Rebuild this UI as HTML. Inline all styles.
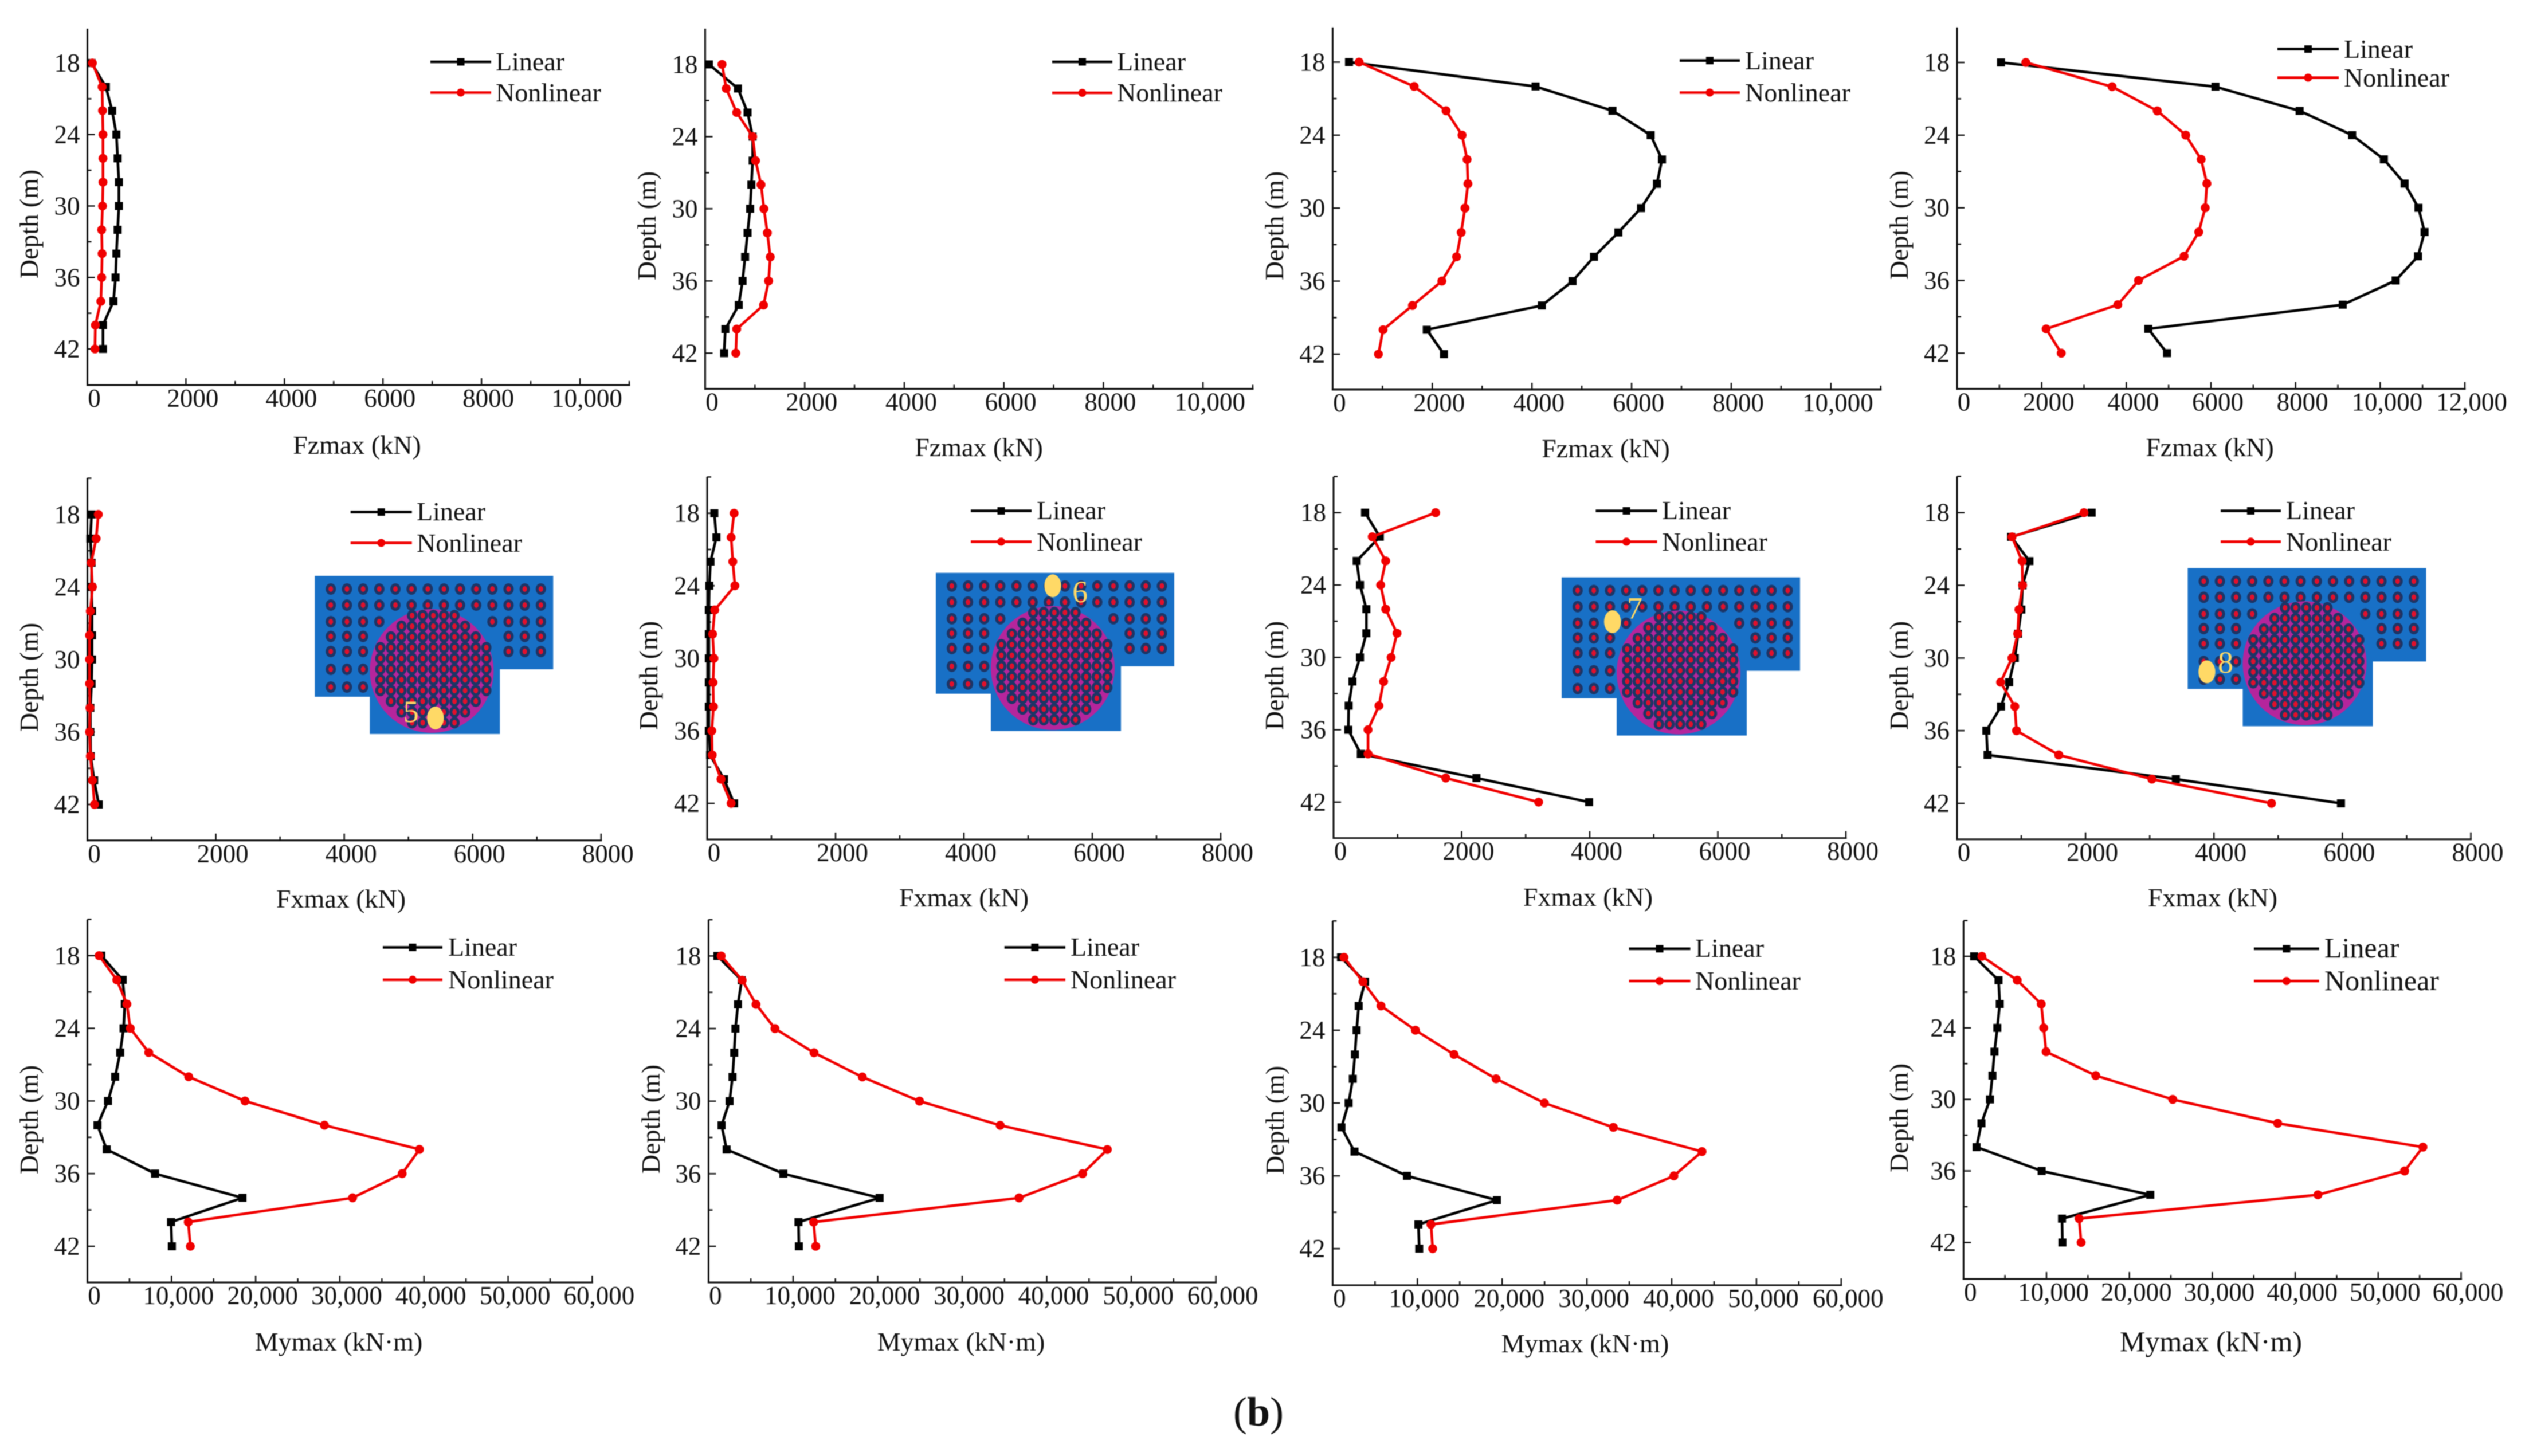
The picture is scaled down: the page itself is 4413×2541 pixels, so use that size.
<!DOCTYPE html>
<html lang="en">
<head>
<meta charset="utf-8">
<title>Depth profiles of Fzmax, Fxmax and Mymax for linear and nonlinear analysis</title>
<style>
html,body{margin:0;padding:0;background:#fff;}
#figure{display:block;width:4413px;height:2541px;background:#fff;font-family:"Liberation Serif","Times New Roman",serif;filter:blur(0.8px);}
#figure text{font-family:"Liberation Serif","Times New Roman",serif;fill:#111;}
.title{font-size:46px;text-anchor:middle;}
.legend{font-size:46px;}
.legend-big{font-size:50px;}
.title-big{font-size:50px;text-anchor:middle;}
#figure text.num{font-size:54px;fill:#ffd966;text-anchor:middle;}
#figure text.caption{font-size:72px;text-anchor:middle;}
</style>
</head>
<body>
<svg id="figure" xmlns="http://www.w3.org/2000/svg" width="4413" height="2541" viewBox="0 0 4413 2541">
  <g id="marks"></g>

  <g id="axis-titles">
    <text class="title" x="623" y="792">Fzmax (kN)</text>
    <text class="title" x="1708" y="796">Fzmax (kN)</text>
    <text class="title" x="2802" y="798">Fzmax (kN)</text>
    <text class="title" x="3856" y="796">Fzmax (kN)</text>
    <text class="title" x="595" y="1584">Fxmax (kN)</text>
    <text class="title" x="1682" y="1582">Fxmax (kN)</text>
    <text class="title" x="2771" y="1581">Fxmax (kN)</text>
    <text class="title" x="3861" y="1582">Fxmax (kN)</text>
    <text class="title" x="591" y="2357">Mymax (kN·m)</text>
    <text class="title" x="1677" y="2357">Mymax (kN·m)</text>
    <text class="title" x="2766" y="2360">Mymax (kN·m)</text>
    <text class="title-big" x="3858" y="2358">Mymax (kN·m)</text>

    <text class="title" transform="translate(66 391) rotate(-90)">Depth (m)</text>
    <text class="title" transform="translate(1144 394) rotate(-90)">Depth (m)</text>
    <text class="title" transform="translate(2239 394) rotate(-90)">Depth (m)</text>
    <text class="title" transform="translate(3329 393) rotate(-90)">Depth (m)</text>
    <text class="title" transform="translate(66 1182) rotate(-90)">Depth (m)</text>
    <text class="title" transform="translate(1147 1179) rotate(-90)">Depth (m)</text>
    <text class="title" transform="translate(2239 1179) rotate(-90)">Depth (m)</text>
    <text class="title" transform="translate(3329 1179) rotate(-90)">Depth (m)</text>
    <text class="title" transform="translate(66 1954) rotate(-90)">Depth (m)</text>
    <text class="title" transform="translate(1151 1953) rotate(-90)">Depth (m)</text>
    <text class="title" transform="translate(2240 1955) rotate(-90)">Depth (m)</text>
    <text class="title" transform="translate(3329 1951) rotate(-90)">Depth (m)</text>
  </g>

  <g id="legend-labels">
    <text class="legend" x="865" y="123">Linear</text>
    <text class="legend" x="865" y="177">Nonlinear</text>
    <text class="legend" x="1949" y="123">Linear</text>
    <text class="legend" x="1949" y="177">Nonlinear</text>
    <text class="legend" x="3045" y="121">Linear</text>
    <text class="legend" x="3045" y="177">Nonlinear</text>
    <text class="legend" x="4090" y="101">Linear</text>
    <text class="legend" x="4090" y="151">Nonlinear</text>

    <text class="legend" x="727" y="908">Linear</text>
    <text class="legend" x="727" y="963">Nonlinear</text>
    <text class="legend" x="1809" y="906">Linear</text>
    <text class="legend" x="1809" y="961">Nonlinear</text>
    <text class="legend" x="2900" y="906">Linear</text>
    <text class="legend" x="2900" y="961">Nonlinear</text>
    <text class="legend" x="3989" y="906">Linear</text>
    <text class="legend" x="3989" y="961">Nonlinear</text>

    <text class="legend" x="782" y="1668">Linear</text>
    <text class="legend" x="782" y="1725">Nonlinear</text>
    <text class="legend" x="1868" y="1668">Linear</text>
    <text class="legend" x="1868" y="1725">Nonlinear</text>
    <text class="legend" x="2958" y="1670">Linear</text>
    <text class="legend" x="2958" y="1727">Nonlinear</text>
    <text class="legend-big" x="4056" y="1671">Linear</text>
    <text class="legend-big" x="4056" y="1728">Nonlinear</text>
  </g>

  <g id="inset-numbers"></g>

  <text class="caption" x="2196" y="2488">(<tspan font-weight="bold">b</tspan>)</text>
</svg>

<script>
// ---------- shared axis values ----------
const depths = [18, 20, 22, 24, 26, 28, 30, 32, 34, 36, 38, 40, 42];
const depthMajor = [18, 24, 30, 36, 42];
const depthMinor = [21, 27, 33, 39];
const fzTicks = [0, 2000, 4000, 6000, 8000, 10000];
const fzTickLabels = ['0', '2000', '4000', '6000', '8000', '10,000'];
const fzMinor = [1000, 3000, 5000, 7000, 9000, 11000];
const fz8Ticks = [0, 2000, 4000, 6000, 8000, 10000, 12000];
const fz8TickLabels = ['0', '2000', '4000', '6000', '8000', '10,000', '12,000'];
const fz8Minor = [1000, 3000, 5000, 7000, 9000, 11000];
const fxTicks = [0, 2000, 4000, 6000, 8000];
const fxTickLabels = ['0', '2000', '4000', '6000', '8000'];
const fxMinor = [1000, 3000, 5000, 7000];
const myTicks = [0, 10000, 20000, 30000, 40000, 50000, 60000];
const myTickLabels = ['0', '10,000', '20,000', '30,000', '40,000', '50,000', '60,000'];
const myMinor = [5000, 15000, 25000, 35000, 45000, 55000];

// ---------- series values ----------
const fz5Linear = [85, 375, 503, 589, 614, 640, 640, 614, 589, 572, 529, 316, 316];
const fz5Nonlinear = [102, 299, 307, 316, 316, 316, 307, 290, 299, 290, 273, 162, 154];
const fz6Linear = [76, 658, 852, 954, 954, 928, 903, 852, 802, 751, 675, 405, 380];
const fz6Nonlinear = [338, 422, 633, 954, 1013, 1122, 1181, 1249, 1308, 1274, 1173, 633, 616];
const fz7Linear = [329, 4073, 5616, 6383, 6610, 6509, 6189, 5734, 5245, 4815, 4199, 1889, 2234];
const fz7Nonlinear = [531, 1636, 2277, 2597, 2698, 2715, 2656, 2580, 2487, 2192, 1602, 1012, 919];
const fz8Linear = [1038, 6106, 8096, 9337, 10087, 10577, 10904, 11048, 10894, 10365, 9115, 4519, 4962];
const fz8Nonlinear = [1625, 3663, 4731, 5404, 5769, 5904, 5865, 5712, 5365, 4288, 3798, 2106, 2462];

const fx5Linear = [65, 46, 65, 65, 72, 72, 72, 65, 46, 46, 52, 105, 177];
const fx5Nonlinear = [170, 137, 59, 79, 46, 33, 33, 33, 39, 33, 46, 79, 111];
const fx6Linear = [111, 144, 52, 33, 26, 26, 26, 26, 26, 26, 46, 262, 419];
const fx6Nonlinear = [419, 373, 399, 432, 118, 85, 105, 92, 98, 72, 79, 216, 373];
const fx7Linear = [492, 722, 361, 413, 512, 512, 413, 295, 236, 230, 426, 2231, 3990];
const fx7Nonlinear = [1594, 604, 814, 735, 814, 991, 899, 781, 709, 538, 538, 1752, 3202];
const fx8Linear = [2096, 842, 1127, 1020, 1001, 950, 899, 811, 684, 456, 475, 3407, 5978];
const fx8Nonlinear = [1976, 855, 1013, 1020, 963, 944, 855, 678, 899, 925, 1583, 3034, 4896];

const my5Linear = [1648, 4196, 4446, 4296, 3896, 3297, 2448, 1199, 2298, 8042, 18432, 9940, 10040];
const my5Nonlinear = [1399, 3497, 4695, 5095, 7293, 12038, 18731, 28172, 39461, 37413, 31518, 11988, 12238];
const my6Linear = [1044, 3926, 3479, 3181, 3032, 2833, 2485, 1541, 2137, 8847, 20229, 10636, 10686];
const my6Nonlinear = [1491, 3976, 5616, 7853, 12475, 18191, 24950, 34493, 47167, 44235, 36730, 12425, 12674];
const my7Linear = [992, 3818, 3074, 2826, 2628, 2380, 1884, 1041, 2578, 8776, 19385, 10114, 10213];
const my7Nonlinear = [1339, 3570, 5701, 9767, 14328, 19286, 24988, 33119, 43580, 40258, 33565, 11601, 11800];
const my8Linear = [1276, 4220, 4367, 4073, 3729, 3484, 3189, 2159, 1570, 9421, 22522, 11874, 11923];
const my8Nonlinear = [2208, 6477, 9372, 9666, 9961, 15947, 25221, 37880, 55397, 53189, 42738, 13935, 14181];

// ---------- panel layout (frame only) ----------
const panels = [
  {id:'fz-5', L:152.5,  R:1098,   T:50,   B:672,    y18:110,    y42:609,    xMax:11000, ticks:fzTicks,  labels:fzTickLabels,  minor:fzMinor,  lin:fz5Linear, non:fz5Nonlinear, leg:[751,857,108,161.5], top:false},
  {id:'fz-6', L:1230.5, R:2186,   T:50,   B:678.6,  y18:112.4,  y42:616.3,  xMax:11000, ticks:fzTicks,  labels:fzTickLabels,  minor:fzMinor,  lin:fz6Linear, non:fz6Nonlinear, leg:[1836,1941,108,162], top:false},
  {id:'fz-7', L:2325.4, R:3281.8, T:47.7, B:680,    y18:108.4,  y42:618,    xMax:11000, ticks:fzTicks,  labels:fzTickLabels,  minor:fzMinor,  lin:fz7Linear, non:fz7Nonlinear, leg:[2931,3036,105.7,161.5], top:false},
  {id:'fz-8', L:3415,   R:4301,   T:47.7, B:678.6,  y18:109,    y42:616.3,  xMax:12000, ticks:fz8Ticks, labels:fz8TickLabels, minor:fz8Minor, lin:fz8Linear, non:fz8Nonlinear, leg:[3974,4081,85.6,135.5], top:false},
  {id:'fx-5', L:152.5,  R:1048.8, T:834,  B:1466.8, y18:897.8,  y42:1404,   xMax:8000,  ticks:fxTicks,  labels:fxTickLabels,  minor:fxMinor,  lin:fx5Linear, non:fx5Nonlinear, leg:[611.7,718.7,893.6,947.5], top:true},
  {id:'fx-6', L:1234,   R:2130,   T:832,  B:1465,   y18:895.7,  y42:1402,   xMax:8000,  ticks:fxTicks,  labels:fxTickLabels,  minor:fxMinor,  lin:fx6Linear, non:fx6Nonlinear, leg:[1694,1800,891.5,945.4], top:true},
  {id:'fx-7', L:2327,   R:3221,   T:832,  B:1462.6, y18:894.7,  y42:1399.9, xMax:8000,  ticks:fxTicks,  labels:fxTickLabels,  minor:fxMinor,  lin:fx7Linear, non:fx7Nonlinear, leg:[2784.5,2891.6,891.5,945.4], top:true},
  {id:'fx-8', L:3415,   R:4311.5, T:831.4,B:1464.7, y18:894.7,  y42:1402,   xMax:8000,  ticks:fxTicks,  labels:fxTickLabels,  minor:fxMinor,  lin:fx8Linear, non:fx8Nonlinear, leg:[3875,3980,891.5,945.4], top:true},
  {id:'my-5', L:152.5,  R:1033.4, T:1604.8,B:2238,  y18:1667.8, y42:2175,   xMax:60000, ticks:myTicks,  labels:myTickLabels,  minor:myMinor,  lin:my5Linear, non:my5Nonlinear, leg:[668,772,1653.4,1709.8], top:true},
  {id:'my-6', L:1236.4, R:2121.6, T:1604.8,B:2238,  y18:1668.4, y42:2175,   xMax:60000, ticks:myTicks,  labels:myTickLabels,  minor:myMinor,  lin:my6Linear, non:my6Nonlinear, leg:[1752.7,1859,1653.4,1709.8], top:true},
  {id:'my-7', L:2325.4, R:3212.8, T:1607, B:2242.9, y18:1670.8, y42:2179.2, xMax:60000, ticks:myTicks,  labels:myTickLabels,  minor:myMinor,  lin:my7Linear, non:my7Nonlinear, leg:[2842.5,2949.5,1655.8,1712], top:true},
  {id:'my-8', L:3426.3, R:4294.5, T:1607, B:2232,   y18:1669,   y42:2168.4, xMax:60000, ticks:myTicks,  labels:myTickLabels,  minor:myMinor,  lin:my8Linear, non:my8Nonlinear, leg:[3933,4046.7,1655.8,1712], top:true}
];

// ---------- foundation inset layout ----------
const insets = [
  {id:'5', x:549.3,  y:1005,   ex:210.5, ey:248, num:'5', nx:168,   ny:255},
  {id:'6', x:1633,   y:999.8,  ex:204,   ey:22.5,num:'6', nx:251.6, ny:51},
  {id:'7', x:2725,   y:1007.6, ex:88.7,  ey:77.4,num:'7', nx:127.6, ny:72},
  {id:'8', x:3817.5, y:991.4,  ex:33.4,  ey:181, num:'8', nx:66,    ny:182.5}
];

const SVGNS = 'http://www.w3.org/2000/svg';
const root = document.getElementById('marks');
const numberLayer = document.getElementById('inset-numbers');

function make(tag, attrs, parent) {
  const el = document.createElementNS(SVGNS, tag);
  for (const k in attrs) el.setAttribute(k, attrs[k]);
  parent.appendChild(el);
  return el;
}

function drawPanel(p) {
  const xScale = v => p.L + (v / p.xMax) * (p.R - p.L);
  const yScale = d => p.y18 + ((d - 18) / 24) * (p.y42 - p.y18);

  const g = make('g', {}, root);
  
  

  // axes
  const yAxis = make('line', {x1:p.L, y1:p.T, x2:p.L, y2:p.B + 1.5, stroke:'#111', 'stroke-width':3}, g);
  
  
  const xAxis = make('line', {x1:p.L - 1.5, y1:p.B, x2:p.R + 1.5, y2:p.B, stroke:'#111', 'stroke-width':3}, g);
  
  

  // x ticks
  p.ticks.forEach((v, i) => {
    const x = xScale(v);
    if (v !== 0) {
      const t = make('line', {x1:x, y1:p.B, x2:x, y2:p.B - 12, stroke:'#111', 'stroke-width':2.5}, g);
      
      
    }
    const lab = make('text', {x:x + 12, y:p.B + 38, 'text-anchor':'middle', 'font-size':45}, g);
    lab.textContent = p.labels[i];
    
    
  });
  p.minor.forEach(v => {
    const x = xScale(v);
    const t = make('line', {x1:x, y1:p.B, x2:x, y2:p.B - 7, stroke:'#111', 'stroke-width':2.5}, g);
    
    
  });

  // y ticks
  depthMajor.forEach(d => {
    const y = yScale(d);
    const t = make('line', {x1:p.L, y1:y, x2:p.L + 13, y2:y, stroke:'#111', 'stroke-width':2.5}, g);
    
    
    const lab = make('text', {x:p.L - 13, y:y + 15, 'text-anchor':'end', 'font-size':45}, g);
    lab.textContent = String(d);
    
    
  });
  const minorDepths = p.top ? [15].concat(depthMinor) : depthMinor;
  minorDepths.forEach(d => {
    const y = yScale(d);
    const t = make('line', {x1:p.L, y1:y, x2:p.L + 7, y2:y, stroke:'#111', 'stroke-width':2.5}, g);
    
    
  });

  // series: linear first, nonlinear on top
  drawSeries(g, p.lin, '#000', 'square', 'linear', xScale, yScale);
  drawSeries(g, p.non, '#f00000', 'circle', 'nonlinear', xScale, yScale);

  // legend swatches
  drawSwatch(g, p.leg[0], p.leg[1], p.leg[2], '#000', 'square', 'linear');
  drawSwatch(g, p.leg[0], p.leg[1], p.leg[3], '#f00000', 'circle', 'nonlinear');
}

function drawSeries(g, values, color, shape, label, xScale, yScale) {
  const pts = values.map((v, i) => xScale(v).toFixed(1) + ',' + yScale(depths[i]).toFixed(1)).join(' ');
  const line = make('polyline', {points:pts, fill:'none', stroke:color, 'stroke-width':4.6, 'stroke-linejoin':'round'}, g);
  
  
  values.forEach((v, i) => {
    const x = xScale(v);
    const y = yScale(depths[i]);
    const m = shape === 'square'
      ? make('rect', {x:x - 7, y:y - 7, width:14, height:14, fill:color}, g)
      : make('circle', {cx:x, cy:y, r:7.8, fill:color}, g);
    
    
  });
}

function drawSwatch(g, x0, x1, y, color, shape, label) {
  const line = make('line', {x1:x0, y1:y, x2:x1, y2:y, stroke:color, 'stroke-width':4.6}, g);
  
  
  const cx = (x0 + x1) / 2;
  const m = shape === 'square'
    ? make('rect', {x:cx - 6.5, y:y - 6.5, width:13, height:13, fill:color}, g)
    : make('circle', {cx:cx, cy:y, r:7, fill:color}, g);
  
  
}

function drawPile(g, x, y) {
  make('ellipse', {cx:x, cy:y, rx:9, ry:10, fill:'#1d3566'}, g);
  make('ellipse', {cx:x, cy:y, rx:4, ry:5, fill:'#e0102c'}, g);
}

function drawInset(s) {
  const g = make('g', {transform:'translate(' + s.x + ' ' + s.y + ')'}, root);
  
  

  const plate = make('polygon', {points:'0,0 416,0 416,163 323,163 323,276 96,276 96,211 0,211', fill:'#1870c6'}, g);
  
  

  const rowY = [23, 51, 80, 105.6, 132, 163, 194];
  rowY.forEach((ry, r) => {
    for (let c = 0; c < 14; c++) {
      let show = true;
      if (r === 2) show = c <= 3 || c >= 10;
      if (r === 3 || r === 4) show = c <= 2 || c >= 11;
      if (r >= 5) show = c <= 2;
      if (show) drawPile(g, 27.9 + c * 28.2, ry);
    }
  });

  const disc = make('circle', {cx:204, cy:166, r:108, fill:'#b5259c'}, g);
  
  

  const spans = [2, 3, 4, 5, 5, 5, 5, 5, 4, 3, 2];
  spans.forEach((half, r) => {
    for (let c = -half; c <= half; c++) {
      drawPile(g, 206.8 + c * 18.5, 162.7 + (r - 5) * 18.7);
    }
  });

  const marker = make('ellipse', {cx:s.ex, cy:s.ey, rx:14.7, ry:20, fill:'#ffd966'}, g);
  
  

  const num = make('text', {x:s.x + s.nx, y:s.y + s.ny, class:'num'}, numberLayer);
  num.textContent = s.num;
  
  
}

panels.forEach(drawPanel);
insets.forEach(drawInset);
</script>
</body>
</html>
